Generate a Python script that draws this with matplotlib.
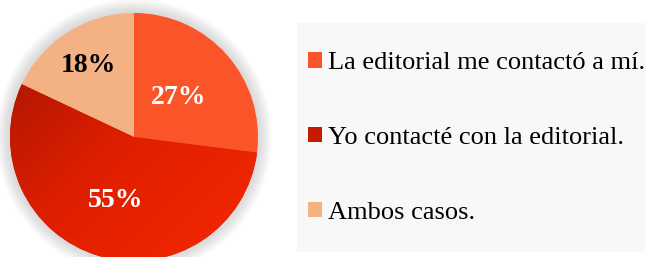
import numpy as np
import matplotlib.pyplot as plt
from matplotlib.patches import Circle, Rectangle
from matplotlib.colors import LinearSegmentedColormap

plt.rcParams['font.family'] = ['Liberation Serif', 'DejaVu Serif']

etiquetas = ['La editorial me contactó a mí.', 'Yo contacté con la editorial.', 'Ambos casos.']
valores = [27, 55, 18]
colores = ['#FA5428', '#D01E00', '#F4B183']
color_texto = ['white', 'white', 'black']
dist_texto = [0.48, 0.53, 0.68]

fig = plt.figure(figsize=(6.45, 2.57), dpi=100)
ax = fig.add_axes([0, 0, 1, 1])

cx, cy, r = 134, 120, 124

# sombra suave alrededor del pastel
for i in range(14):
    ax.add_patch(Circle((cx, cy), r + 14 - i, color='#909090', alpha=0.022, lw=0, zorder=0))

wedges, textos = ax.pie(valores, colors=colores, startangle=90, counterclock=False,
                        radius=r, center=(cx, cy), wedgeprops=dict(lw=0, zorder=2))

# degradado del sector rojo (oscuro arriba a la izquierda)
grad = LinearSegmentedColormap.from_list('rojo', ['#A31400', '#E01F00', '#F52800'])
xx, yy = np.meshgrid(np.linspace(0, 1, 200), np.linspace(0, 1, 200))
img = ax.imshow((xx + yy) / 2, cmap=grad, origin='upper',
                extent=(cx - r, cx + r, cy - r, cy + r), zorder=3)
img.set_clip_path(wedges[1])

for w, val, c, d in zip(wedges, valores, color_texto, dist_texto):
    ang = np.deg2rad((w.theta1 + w.theta2) / 2)
    ax.text(cx + d * r * np.cos(ang), cy + d * r * np.sin(ang), f'{val}%',
            ha='center', va='center', color=c, fontsize=20, fontweight='bold', zorder=5)

# fondo de la leyenda
ax.add_patch(Rectangle((297, 5), 360, 229, color='#F8F8F8', lw=0, zorder=1))

leg = ax.legend(wedges, etiquetas, loc='upper left', bbox_to_anchor=(308 / 645, 1 - 52 / 257),
                frameon=False, fontsize=19, labelspacing=2.0, handlelength=0.53,
                handleheight=0.53, handletextpad=0.23, borderpad=0, borderaxespad=0)
leg.legend_handles[1].set_facecolor('#C81A00')

ax.set_xlim(0, 645)
ax.set_ylim(0, 257)
ax.set_aspect('auto')
ax.axis('off')

fig.savefig('out.png', dpi=100)
